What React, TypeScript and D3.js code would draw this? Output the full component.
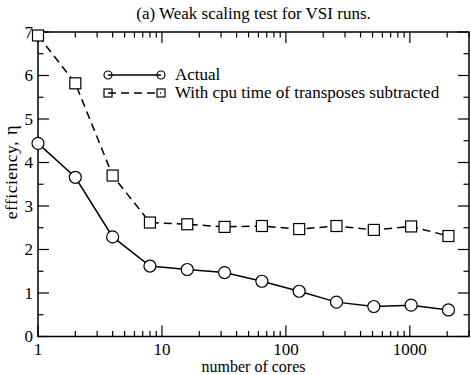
import React from 'react';
import * as d3 from 'd3';

const cores = [1, 2, 4, 8, 16, 32, 64, 128, 256, 512, 1024, 2048];
const actual = [4.44, 3.66, 2.29, 1.62, 1.54, 1.47, 1.27, 1.04, 0.79, 0.69, 0.72, 0.61];
const noTranspose = [6.92, 5.82, 3.7, 2.62, 2.58, 2.52, 2.54, 2.47, 2.54, 2.45, 2.53, 2.31];
const xMajor = [1, 10, 100, 1000];
const yMajor = [0, 1, 2, 3, 4, 5, 6, 7];

const W = 471;
const H = 375;
const m = { left: 38, right: 2, top: 32, bottom: 38.5 };
const font = '"Liberation Serif", "DejaVu Serif", serif';

export default function App() {
  const x = d3.scaleLog().domain([1, 3000]).range([m.left, W - m.right]);
  const y = d3.scaleLinear().domain([0, 7]).range([H - m.bottom, m.top]);
  const x0 = m.left, x1 = W - m.right, y0 = H - m.bottom, y1 = m.top;

  const line = d3
    .line<number>()
    .x((_, i) => x(cores[i]))
    .y((d) => y(d));

  // minor x ticks 2..9 per decade
  const xMinor: number[] = [];
  for (let dec = 1; dec <= 1000; dec *= 10)
    for (let k = 2; k <= 9; k++) if (dec * k <= 3000) xMinor.push(dec * k);
  const yMinor = d3.range(0.5, 7, 1);

  const majLen = 11;
  const minLen = 5.5;
  const stroke = '#000';

  return (
    <svg width={W} height={H} style={{ position: 'absolute', left: 0, top: 0, background: '#fff' }}>
      <text x={(x0 + x1) / 2} y={19} textAnchor="middle" fontFamily={font} fontSize={17}>
        (a) Weak scaling test for VSI runs.
      </text>

      {/* ticks */}
      <g stroke={stroke} strokeWidth={1.2}>
        {xMajor.map((t) => (
          <g key={'xm' + t}>
            <line x1={x(t)} x2={x(t)} y1={y0} y2={y0 - majLen} />
            <line x1={x(t)} x2={x(t)} y1={y1} y2={y1 + majLen} />
          </g>
        ))}
        {xMinor.map((t) => (
          <g key={'xn' + t}>
            <line x1={x(t)} x2={x(t)} y1={y0} y2={y0 - minLen} />
            <line x1={x(t)} x2={x(t)} y1={y1} y2={y1 + minLen} />
          </g>
        ))}
        {yMajor.map((t) => (
          <g key={'ym' + t}>
            <line x1={x0} x2={x0 + majLen} y1={y(t)} y2={y(t)} />
            <line x1={x1} x2={x1 - majLen} y1={y(t)} y2={y(t)} />
          </g>
        ))}
        {yMinor.map((t) => (
          <g key={'yn' + t}>
            <line x1={x0} x2={x0 + minLen} y1={y(t)} y2={y(t)} />
            <line x1={x1} x2={x1 - minLen} y1={y(t)} y2={y(t)} />
          </g>
        ))}
      </g>
      <rect x={x0} y={y1} width={x1 - x0} height={y0 - y1} fill="none" stroke={stroke} strokeWidth={1.5} />

      {/* tick labels */}
      <g fontFamily={font} fontSize={17}>
        {yMajor.map((t) => (
          <text key={'yl' + t} x={x0 - 5} y={y(t) + 5.5} textAnchor="end">
            {t}
          </text>
        ))}
        {xMajor.map((t) => (
          <text key={'xl' + t} x={x(t)} y={y0 + 18.5} textAnchor="middle">
            {t}
          </text>
        ))}
      </g>
      <text x={(x0 + x1) / 2} y={H - 3} textAnchor="middle" fontFamily={font} fontSize={16}>
        number of cores
      </text>
      <text
        transform={`translate(${17},${172}) rotate(-90)`}
        textAnchor="middle"
        fontFamily={font}
        fontSize={17.5}
        letterSpacing={0.5}
      >
        efficiency,<tspan dx={6} fontSize={18.5}>η</tspan>
      </text>

      {/* series */}
      <path d={line(noTranspose) ?? ''} fill="none" stroke={stroke} strokeWidth={1.5} strokeDasharray="8,5" />
      <path d={line(actual) ?? ''} fill="none" stroke={stroke} strokeWidth={1.5} />
      {noTranspose.map((v, i) => (
        <rect key={'s' + i} x={x(cores[i]) - 5.5} y={y(v) - 5.5} width={11} height={11} fill="#fff" stroke={stroke} strokeWidth={1.2} />
      ))}
      {actual.map((v, i) => (
        <circle key={'c' + i} cx={x(cores[i])} cy={y(v)} r={6} fill="#fff" stroke={stroke} strokeWidth={1.2} />
      ))}

      {/* legend */}
      <g fontFamily={font} fontSize={17}>
        <line x1={108} x2={161} y1={75} y2={75} stroke={stroke} strokeWidth={1.5} />
        <circle cx={108} cy={75} r={4} fill="none" stroke={stroke} strokeWidth={1.2} />
        <circle cx={161} cy={75} r={4} fill="none" stroke={stroke} strokeWidth={1.2} />
        <text x={175} y={80}>Actual</text>
        <line x1={108} x2={161} y1={93} y2={93} stroke={stroke} strokeWidth={1.5} strokeDasharray="8,5" />
        <rect x={104} y={89} width={8} height={8} fill="none" stroke={stroke} strokeWidth={1.2} />
        <rect x={157} y={89} width={8} height={8} fill="none" stroke={stroke} strokeWidth={1.2} />
        <text x={175} y={98}>With cpu time of transposes subtracted</text>
      </g>
    </svg>
  );
}
